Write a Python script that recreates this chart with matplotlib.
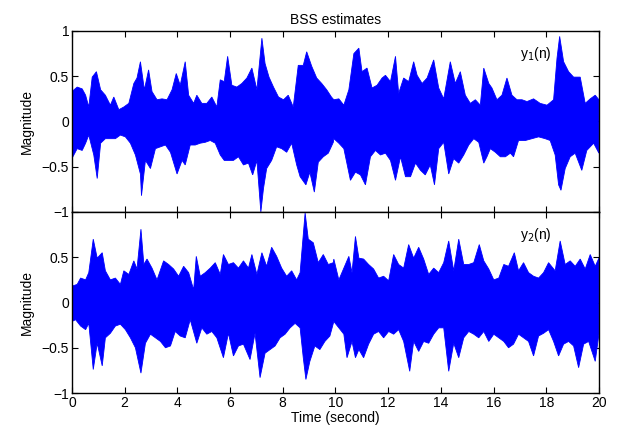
"""
Two BSS output signals y1(n), y2(n) drawn as their amplitude envelopes.
"""

import matplotlib.pyplot as plt
import numpy as np

plt.rcParams["font.family"] = ["Liberation Sans", "DejaVu Sans"]

OUTPUT_FILEPATH = "out.png"

# y1(n): upper / lower envelope (time in seconds)
t_y1_upper = [
    0.0, 0.20, 0.39, 0.52, 0.64, 0.77, 0.93, 1.09, 1.27, 1.46, 1.59, 1.78, 1.97,
    2.16, 2.35, 2.47, 2.60, 2.75, 2.91, 3.04, 3.23, 3.42, 3.61, 3.80, 3.96, 4.11,
    4.30, 4.43, 4.62, 4.74, 4.93, 5.12, 5.31, 5.50, 5.63, 5.78, 5.91, 6.07, 6.26,
    6.45, 6.64, 6.83, 7.02, 7.21, 7.33, 7.48, 7.65, 7.84, 8.03, 8.21, 8.40, 8.59,
    8.78, 8.91, 9.10, 9.29, 9.48, 9.67, 9.85,
    9.94, 10.13, 10.32, 10.51, 10.70, 10.89, 11.01, 11.20, 11.39, 11.58, 11.77,
    11.90, 12.09, 12.28, 12.40, 12.59, 12.78, 12.97, 13.10, 13.29, 13.48, 13.73,
    13.92, 14.11, 14.36, 14.55, 14.74, 14.93, 15.12, 15.31, 15.50, 15.63, 15.82,
    15.94, 16.13, 16.32, 16.51, 16.70, 16.89, 17.08, 17.27, 17.52, 17.77, 18.03,
    18.28, 18.41, 18.51, 18.66, 18.85, 19.04, 19.29, 19.48, 19.67, 19.86, 20.0,
]
y1_upper = [
    0.33, 0.38, 0.36, 0.29, 0.16, 0.49, 0.55, 0.35, 0.29, 0.18, 0.27, 0.13, 0.16,
    0.20, 0.42, 0.48, 0.66, 0.35, 0.57, 0.33, 0.24, 0.25, 0.24, 0.35, 0.53, 0.40,
    0.66, 0.29, 0.20, 0.29, 0.20, 0.20, 0.27, 0.16, 0.46, 0.44, 0.72, 0.40, 0.38,
    0.42, 0.48, 0.59, 0.35, 0.92, 0.64, 0.49, 0.38, 0.27, 0.24, 0.29, 0.16, 0.62,
    0.62, 0.77, 0.61, 0.48, 0.42, 0.35, 0.27,
    0.24, 0.25, 0.18, 0.35, 0.75, 0.81, 0.55, 0.59, 0.37, 0.40, 0.48,
    0.51, 0.44, 0.72, 0.31, 0.48, 0.44, 0.66, 0.51, 0.42, 0.48, 0.68,
    0.37, 0.25, 0.66, 0.42, 0.55, 0.29, 0.20, 0.24, 0.18, 0.59, 0.42,
    0.37, 0.24, 0.29, 0.48, 0.29, 0.24, 0.24, 0.22, 0.25, 0.20, 0.18,
    0.24, 0.70, 0.94, 0.66, 0.55, 0.49, 0.49, 0.20, 0.25, 0.29, 0.24,
]
t_y1_lower = [
    0.0, 0.20, 0.39, 0.52, 0.64, 0.83, 0.96, 1.09, 1.27, 1.46, 1.65, 1.84, 2.03,
    2.22, 2.41, 2.60, 2.64, 2.79, 2.98, 3.17, 3.36, 3.55, 3.74, 3.99, 4.18, 4.30,
    4.49, 4.68, 4.87, 5.06, 5.25, 5.44, 5.63, 5.78, 5.94, 6.13, 6.32, 6.51, 6.70,
    6.86, 7.02, 7.17, 7.27, 7.39, 7.58, 7.77, 7.96, 8.15, 8.34, 8.53, 8.66, 8.88,
    9.03, 9.20, 9.35, 9.54, 9.73, 9.92,
    9.94, 10.13, 10.32, 10.57, 10.76, 10.95, 11.14, 11.33, 11.52, 11.71, 11.90,
    12.09, 12.28, 12.47, 12.66, 12.85, 13.04, 13.23, 13.41, 13.60, 13.76, 13.92,
    14.11, 14.30, 14.49, 14.68, 14.87, 15.06, 15.25, 15.44, 15.63, 15.75, 15.88,
    16.07, 16.26, 16.45, 16.64, 16.76, 16.95, 17.21, 17.46, 17.71, 17.96, 18.15,
    18.34, 18.47, 18.56, 18.72, 18.91, 19.10, 19.35, 19.54, 19.80, 20.0,
]
y1_lower = [
    -0.41, -0.30, -0.32, -0.24, -0.15, -0.37, -0.63, -0.24, -0.19, -0.19, -0.19,
    -0.15, -0.17, -0.24, -0.37, -0.58, -0.82, -0.43, -0.52, -0.30, -0.28, -0.26,
    -0.34, -0.58, -0.43, -0.48, -0.26, -0.26, -0.24, -0.23, -0.21, -0.24, -0.37,
    -0.43, -0.43, -0.43, -0.39, -0.48, -0.46, -0.59, -0.43, -1.0, -0.74, -0.52,
    -0.43, -0.28, -0.30, -0.34, -0.24, -0.48, -0.61, -0.70, -0.56, -0.78, -0.45,
    -0.39, -0.35, -0.23,
    -0.19, -0.24, -0.30, -0.65, -0.56, -0.59, -0.70, -0.39, -0.32, -0.37, -0.35,
    -0.43, -0.65, -0.39, -0.61, -0.61, -0.46, -0.54, -0.59, -0.48, -0.70, -0.30,
    -0.23, -0.58, -0.41, -0.46, -0.37, -0.26, -0.19, -0.23, -0.46, -0.39, -0.30,
    -0.34, -0.39, -0.39, -0.35, -0.39, -0.21, -0.21, -0.19, -0.17, -0.19, -0.21,
    -0.37, -0.70, -0.76, -0.52, -0.39, -0.35, -0.54, -0.32, -0.24, -0.35,
]

# y2(n): upper / lower envelope
t_y2_upper = [
    0.0, 0.20, 0.33, 0.52, 0.64, 0.81, 0.96, 1.15, 1.27, 1.46, 1.65, 1.84, 1.97,
    2.16, 2.35, 2.47, 2.62, 2.73, 2.85, 3.04, 3.23, 3.48, 3.67, 3.86, 4.05, 4.24,
    4.43, 4.62, 4.72, 4.87, 5.06, 5.25, 5.44, 5.63, 5.75, 5.94, 6.13, 6.32, 6.51,
    6.70, 6.83, 7.02, 7.21, 7.39, 7.58, 7.77, 7.96, 8.15, 8.34, 8.53, 8.66, 8.85,
    8.97, 9.16, 9.35, 9.54, 9.73, 9.92,
    9.94, 10.13, 10.32, 10.51, 10.63, 10.76, 10.89, 11.07, 11.26, 11.45, 11.64,
    11.83, 12.02, 12.21, 12.40, 12.59, 12.78, 12.97, 13.16, 13.35, 13.54, 13.73,
    13.92, 14.11, 14.30, 14.49, 14.68, 14.87, 15.06, 15.25, 15.46, 15.63, 15.82,
    16.01, 16.20, 16.39, 16.57, 16.79, 16.95, 17.14, 17.33, 17.52, 17.71, 17.90,
    18.09, 18.34, 18.53, 18.72, 18.91, 19.10, 19.29, 19.48, 19.67, 19.86, 20.0,
]
y2_upper = [
    0.18, 0.20, 0.27, 0.25, 0.33, 0.70, 0.49, 0.55, 0.35, 0.25, 0.27, 0.20, 0.35,
    0.31, 0.46, 0.37, 0.81, 0.42, 0.48, 0.38, 0.25, 0.46, 0.42, 0.37, 0.29, 0.40,
    0.33, 0.14, 0.51, 0.29, 0.33, 0.38, 0.44, 0.31, 0.53, 0.42, 0.44, 0.38, 0.46,
    0.38, 0.53, 0.31, 0.55, 0.40, 0.61, 0.51, 0.38, 0.29, 0.35, 0.25, 0.33, 0.99,
    0.70, 0.66, 0.44, 0.53, 0.42, 0.44,
    0.48, 0.25, 0.38, 0.51, 0.33, 0.73, 0.49, 0.48, 0.42, 0.37, 0.27,
    0.29, 0.24, 0.53, 0.42, 0.38, 0.64, 0.49, 0.61, 0.48, 0.31, 0.38,
    0.33, 0.44, 0.68, 0.35, 0.70, 0.42, 0.42, 0.44, 0.64, 0.46, 0.37,
    0.25, 0.27, 0.42, 0.40, 0.55, 0.35, 0.44, 0.33, 0.29, 0.27, 0.33,
    0.44, 0.35, 0.68, 0.42, 0.46, 0.40, 0.48, 0.37, 0.53, 0.40, 0.49,
]
t_y2_lower = [
    0.0, 0.14, 0.33, 0.52, 0.64, 0.81, 0.96, 1.15, 1.27, 1.46, 1.65, 1.84, 2.03,
    2.22, 2.41, 2.62, 2.79, 2.98, 3.17, 3.36, 3.55, 3.74, 3.92, 4.11, 4.30, 4.49,
    4.74, 4.93, 5.12, 5.31, 5.50, 5.75, 5.94, 6.13, 6.32, 6.51, 6.76, 6.95, 7.14,
    7.33, 7.52, 7.71, 7.90, 8.09, 8.28, 8.47, 8.66, 8.78, 8.88, 9.03, 9.22, 9.41,
    9.60, 9.79,
    9.94, 10.13, 10.32, 10.44, 10.63, 10.76, 10.89, 11.07, 11.26, 11.45, 11.64,
    11.83, 12.02, 12.21, 12.40, 12.59, 12.82, 12.97, 13.16, 13.35, 13.54, 13.73,
    13.92, 14.11, 14.30, 14.49, 14.68, 14.87, 15.06, 15.25, 15.44, 15.63, 15.82,
    16.01, 16.20, 16.39, 16.57, 16.76, 16.95, 17.14, 17.33, 17.52, 17.71, 17.90,
    18.09, 18.28, 18.47, 18.66, 18.85, 19.04, 19.23, 19.42, 19.61, 19.86, 20.0,
]
y2_lower = [
    -0.21, -0.19, -0.26, -0.30, -0.23, -0.74, -0.45, -0.70, -0.39, -0.34, -0.26,
    -0.24, -0.30, -0.39, -0.50, -0.78, -0.45, -0.35, -0.39, -0.43, -0.50, -0.48,
    -0.32, -0.37, -0.39, -0.19, -0.45, -0.28, -0.35, -0.32, -0.39, -0.61, -0.34,
    -0.59, -0.48, -0.46, -0.63, -0.34, -0.83, -0.56, -0.52, -0.48, -0.39, -0.35,
    -0.28, -0.23, -0.28, -0.61, -0.85, -0.65, -0.48, -0.52, -0.43, -0.37,
    -0.21, -0.28, -0.35, -0.61, -0.43, -0.61, -0.52, -0.61, -0.46, -0.35, -0.32,
    -0.39, -0.32, -0.35, -0.30, -0.43, -0.76, -0.43, -0.54, -0.43, -0.45, -0.35,
    -0.28, -0.28, -0.76, -0.45, -0.61, -0.39, -0.32, -0.35, -0.39, -0.32, -0.43,
    -0.35, -0.39, -0.43, -0.50, -0.46, -0.35, -0.39, -0.43, -0.59, -0.37, -0.34,
    -0.30, -0.43, -0.59, -0.46, -0.43, -0.48, -0.72, -0.46, -0.43, -0.65, -0.35,
]

x_ticks = list(range(0, 21, 2))
y_ticks = [-1, -0.5, 0, 0.5, 1]
y_ticklabels_top = ["\u22121", "\u22120.5", "0", "0.5", "1"]
y_ticklabels_bottom = ["\u22121", "\u22120.5", "0", "0.5", ""]  # shared edge shows -1 only
signal_labels = ["y$_1$(n)", "y$_2$(n)"]

BLUE = "#0000ff"


def main():
    fig = plt.figure(figsize=(6.2, 4.3), dpi=100)
    ax1 = fig.add_axes([0.116, 0.507, 0.850, 0.421])
    ax2 = fig.add_axes([0.116, 0.086, 0.850, 0.421])

    series = [
        (ax1, t_y1_upper, y1_upper, t_y1_lower, y1_lower, y_ticklabels_top),
        (ax2, t_y2_upper, y2_upper, t_y2_lower, y2_lower, y_ticklabels_bottom),
    ]
    for (ax, tu, yu, tl, yl, ylabels), label in zip(series, signal_labels):
        xs = np.concatenate([tu, tl[::-1]])
        ys = np.concatenate([yu, yl[::-1]])
        ax.fill(xs, ys, color=BLUE, linewidth=0.6, edgecolor=BLUE, zorder=2)

        ax.set_xlim(0, 20)
        ax.set_ylim(-1, 1)
        ax.set_xticks(x_ticks)
        ax.set_yticks(y_ticks)
        ax.set_yticklabels(ylabels)
        ax.tick_params(direction="in", top=True, right=True, length=4,
                       width=0.8, labelsize=10, pad=2)
        ax.set_ylabel("Magnitude", fontsize=10, labelpad=6)
        ax.text(17.6, 0.75, label, fontsize=10, ha="center", va="center")
        for spine in ax.spines.values():
            spine.set_linewidth(1.0)
            spine.set_zorder(3)

    ax1.tick_params(labelbottom=False)
    ax1.set_title("BSS estimates", fontsize=10, pad=5)
    ax2.set_xticklabels([str(t) for t in x_ticks])
    ax2.set_xlabel("Time (second)", fontsize=10, labelpad=1)

    fig.savefig(OUTPUT_FILEPATH, dpi=100)


if __name__ == "__main__":
    main()
